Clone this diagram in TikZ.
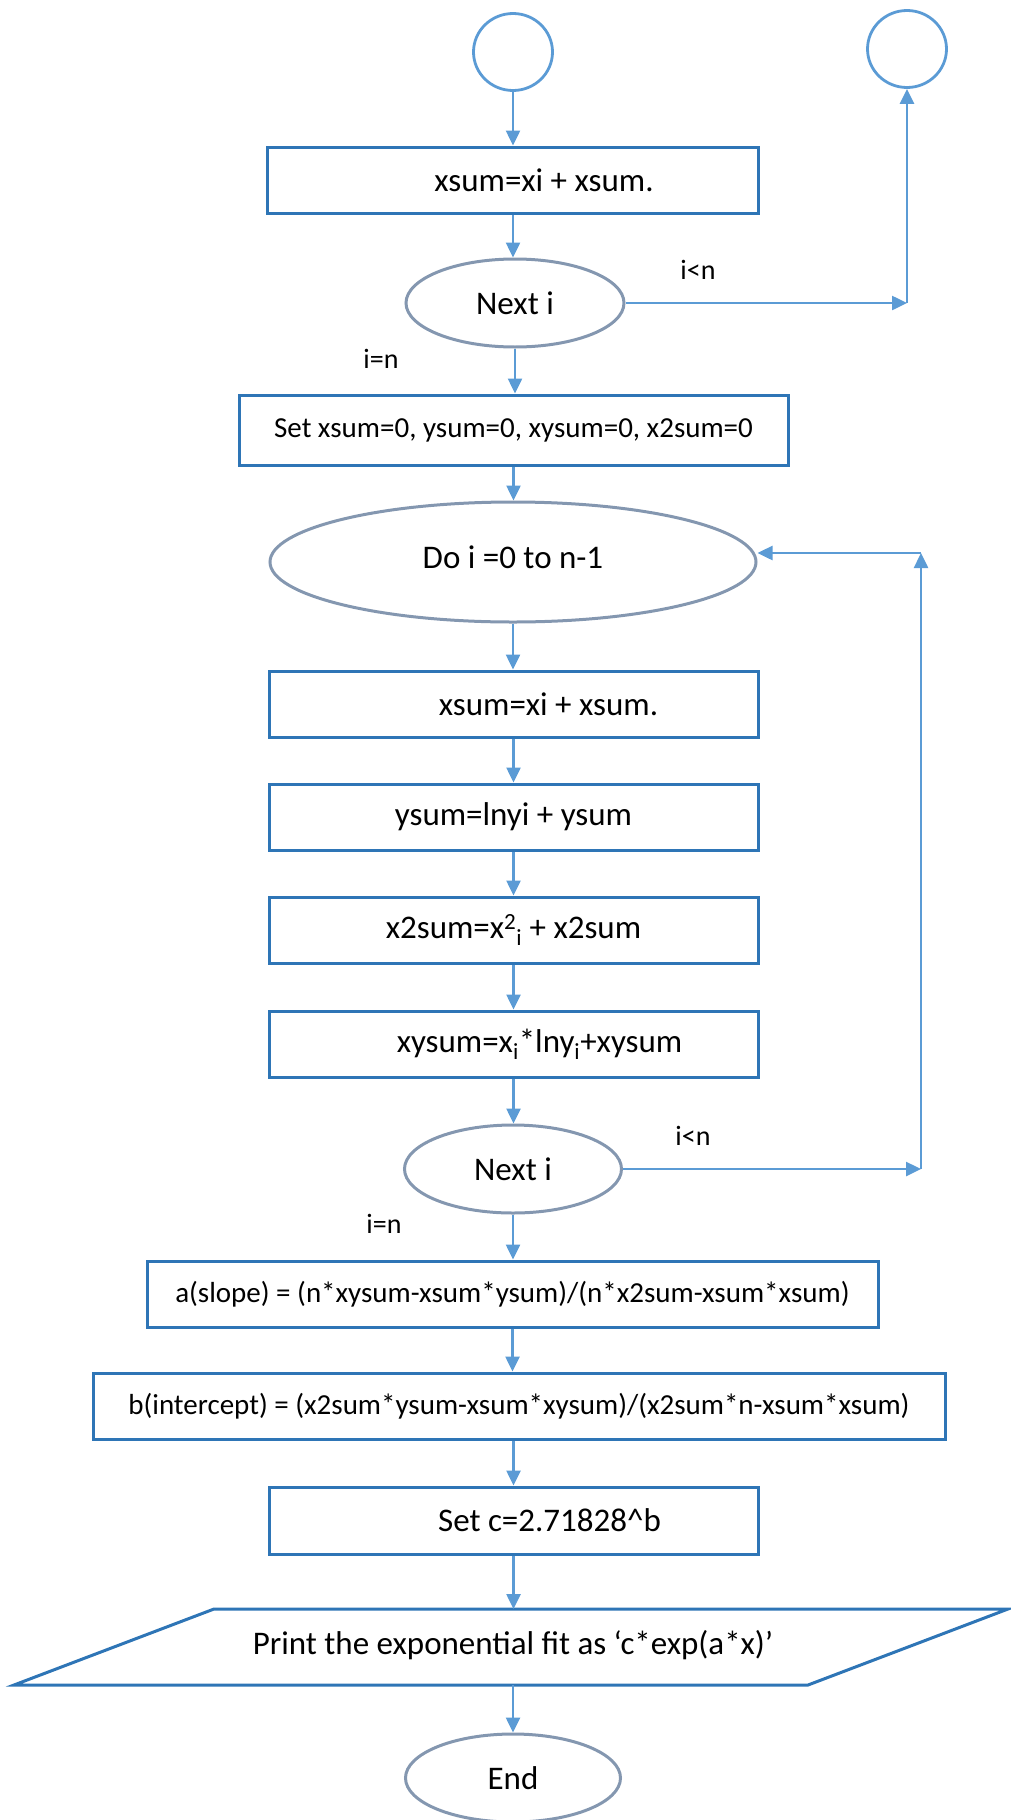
\documentclass[tikz,border=0pt]{standalone}
\usepackage{fontspec}
\setmainfont{Carlito}
\usetikzlibrary{shapes.geometric,arrows.meta}
\definecolor{boxblue}{HTML}{2E75B6}
\definecolor{arrowblue}{HTML}{5B9BD5}
\definecolor{ovalgrey}{HTML}{8497B0}
\newcommand{\bigfnt}{\fontsize{33}{40}\selectfont}
\newcommand{\smfnt}{\fontsize{29}{35}\selectfont}
\newcommand{\lblfnt}{\fontsize{28}{34}\selectfont}
\begin{document}
\begin{tikzpicture}[x=1pt,y=-1pt,
  box/.style={draw=boxblue, line width=3pt, minimum height=66pt, inner sep=0pt, font=\bigfnt},
  wbox/.style={box, minimum width=489pt},
  oval/.style={ellipse, draw=ovalgrey, line width=3pt, inner sep=0pt, font=\bigfnt},
  circ/.style={ellipse, draw=arrowblue, line width=2.8pt, inner sep=0pt, minimum width=79pt, minimum height=77pt},
  conn/.style={draw=arrowblue, line width=2.5pt, -{Triangle[length=15pt,width=14pt]}},
  lbl/.style={font=\lblfnt, inner sep=0pt}]
\useasboundingbox (0,0) rectangle (1010,1820);
% nodes
\node[circ] (c0) at (513,52) {};
\node[circ] (cR) at (907,49) {};
\node[wbox, minimum width=491pt] (b1) at (513,180) {\hspace*{62pt}xsum=xi + xsum.};
\node[oval, minimum width=218pt, minimum height=88pt] (n1) at (515,303) {Next i};
\node[lbl] (l1) at (698,270) {i<n};
\node[lbl] (l2) at (381,359) {i=n};
\node[box, minimum width=549pt, minimum height=70pt, font=\smfnt] (b2) at (513.5,430) {Set xsum=0, ysum=0, xysum=0, x2sum=0};
\node[oval, minimum width=486pt, minimum height=120pt] (d1) at (513,562) {\raisebox{9pt}{Do i =0 to n-1}};
\node[wbox] (b3) at (513.5,704) {\hspace*{70pt}xsum=xi + xsum.};
\node[wbox] (b4) at (513.5,817) {ysum=lnyi + ysum};
\node[wbox] (b5) at (513.5,930) {x2sum=x\textsuperscript{2}\textsubscript{i} + x2sum};
\node[wbox] (b6) at (513.5,1044) {\hspace*{52pt}xysum=x\textsubscript{i}*lny\textsubscript{i}+xysum};
\node[oval, minimum width=217pt, minimum height=88pt] (n2) at (513,1169) {Next i};
\node[lbl] (l3) at (693,1136) {i<n};
\node[lbl] (l4) at (384,1224) {i=n};
\node[box, minimum width=731pt, font=\smfnt] (b7) at (512.5,1294) {a(slope) = (n*xysum-xsum*ysum)/(n*x2sum-xsum*xsum)};
\node[box, minimum width=852pt, font=\smfnt] (b8) at (519,1406) {b(intercept) = (x2sum*ysum-xsum*xysum)/(x2sum*n-xsum*xsum)};
\node[wbox, minimum height=67pt] (b9) at (513.5,1520.5) {\hspace*{72pt}Set c=2.71828\textasciicircum{}b};
% parallelogram
\coordinate (p1) at (214,1609);
\coordinate (p2) at (1008,1609);
\coordinate (p3) at (808,1685);
\coordinate (p4) at (14,1685);
\draw[boxblue, line width=3pt, line join=miter] (p1) -- (p2) -- (p3) -- (p4) -- cycle;
\node[font=\bigfnt] (pt) at (513,1645) {Print the exponential fit as ‘c*exp(a*x)’};
\coordinate (pin) at (513.5,1609);
\coordinate (pout) at (513,1685);
\node[oval, minimum width=215pt, minimum height=88pt] (e) at (513,1778) {End};
% loop corner points
\coordinate (k1) at (907,303);
\coordinate (k2) at (921,1169);
\coordinate (k3) at (921,553);
% connectors
\draw[conn] (c0.south) -- (c0.south |- b1.north);
\draw[conn] (b1.south) -- (b1.south |- n1.north);
\draw[conn] (n1.south) -- (n1.south |- b2.north);
\draw[conn] (n1.east) -- (k1);
\draw[conn] (k1) -- (cR.south);
\draw[conn] (b2.south) -- (b2.south |- d1.north);
\draw[conn] (d1.south) -- (d1.south |- b3.north);
\draw[conn] (b3) -- (b4);
\draw[conn] (b4) -- (b5);
\draw[conn] (b5) -- (b6);
\draw[conn] (b6.south) -- (b6.south |- n2.north);
\draw[conn] (n2.east) -- (k2);
\draw[conn] (k2) -- (k3);
\draw[conn] (k3) -- (d1.east |- k3);
\draw[conn] (n2.south) -- (n2.south |- b7.north);
\draw[conn] (b7.south) -- (b7.south |- b8.north);
\draw[conn] (b8.south -| b9.north) -- (b9.north);
\draw[conn] (b9.south) -- (pin);
\draw[conn] (pout) -- (e.north);
\end{tikzpicture}
\end{document}
